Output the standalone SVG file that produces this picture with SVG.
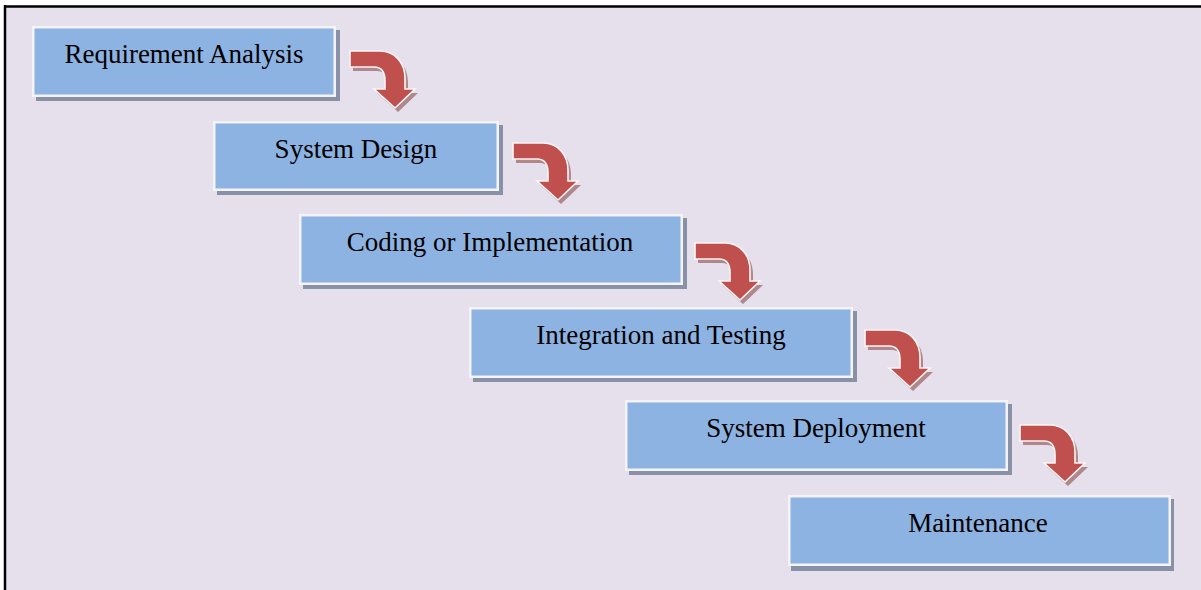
<svg xmlns="http://www.w3.org/2000/svg" width="1201" height="590" viewBox="0 0 1201 590">
<defs>
<style>
.shadow{fill:#8891A6;}
.box{fill:#8DB3E2;stroke:#F4F4F6;stroke-width:2.5;}
.lbl{font-family:"Liberation Serif","Times New Roman",serif;font-size:27px;fill:#000;text-anchor:middle;}
.arr{fill:#C0504D;stroke:#FAF5F5;stroke-width:1.6;stroke-linejoin:miter;}
.arrs{fill:#AF878C;}
</style>
<path id="bent" d="M0,0 L30,0 C45,0 55,12 55,27 L55,38 L65,38 L45,57 L24,38 L35,38 L35,30 C35,21 31,16 24,16 L0,16 Z"/>
</defs>
<rect x="0" y="0" width="1201" height="590" fill="#FFFFFF"/>
<rect x="5" y="6" width="1196" height="584" fill="#E6E0EC"/>
<line x1="4" y1="6.5" x2="1201" y2="6.5" stroke="#000" stroke-width="2.5"/>
<line x1="5" y1="5" x2="5" y2="590" stroke="#000" stroke-width="2.5"/>
<g id="connectors">
<g transform="translate(350,51)"><use href="#bent" class="arrs" transform="translate(3,4)"/><use href="#bent" class="arr"/></g>
<g transform="translate(513,143)"><use href="#bent" class="arrs" transform="translate(3,4)"/><use href="#bent" class="arr"/></g>
<g transform="translate(695,243)"><use href="#bent" class="arrs" transform="translate(3,4)"/><use href="#bent" class="arr"/></g>
<g transform="translate(865,330)"><use href="#bent" class="arrs" transform="translate(3,4)"/><use href="#bent" class="arr"/></g>
<g transform="translate(1020,425)"><use href="#bent" class="arrs" transform="translate(3,4)"/><use href="#bent" class="arr"/></g>
</g>
<g id="n1">
<rect class="shadow" x="36" y="30" width="304" height="71"/>
<rect class="box" x="33.25" y="27.25" width="301.5" height="68.5"/>
<text class="lbl" x="184" y="63">Requirement Analysis</text>
</g>
<g id="n2">
<rect class="shadow" x="217" y="125" width="286" height="70"/>
<rect class="box" x="214.25" y="122.25" width="283.5" height="67.5"/>
<text class="lbl" x="356" y="158">System Design</text>
</g>
<g id="n3">
<rect class="shadow" x="303" y="218" width="384" height="71"/>
<rect class="box" x="300.25" y="215.25" width="381.5" height="68.5"/>
<text class="lbl" x="490" y="251">Coding or Implementation</text>
</g>
<g id="n4">
<rect class="shadow" x="473" y="311" width="384" height="71"/>
<rect class="box" x="470.25" y="308.25" width="381.5" height="68.5"/>
<text class="lbl" x="661" y="344">Integration and Testing</text>
</g>
<g id="n5">
<rect class="shadow" x="629" y="404" width="383" height="71"/>
<rect class="box" x="626.25" y="401.25" width="380.5" height="68.5"/>
<text class="lbl" x="816" y="437">System Deployment</text>
</g>
<g id="n6">
<rect class="shadow" x="791" y="499" width="383" height="72"/>
<rect class="box" x="789.25" y="496.25" width="380.5" height="68.5"/>
<text class="lbl" x="978" y="532">Maintenance</text>
</g>
</svg>
